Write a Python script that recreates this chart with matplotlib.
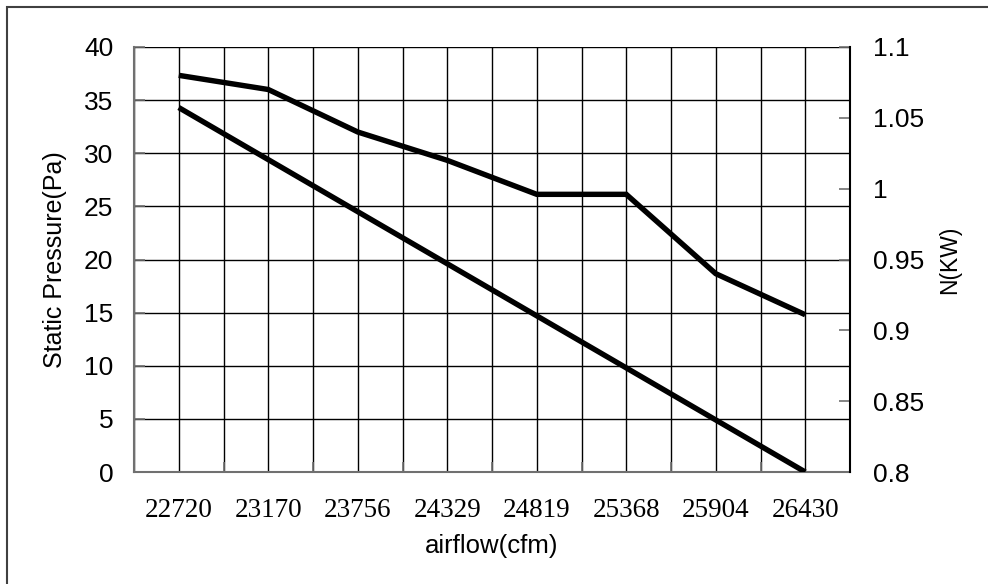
import numpy as np
import matplotlib
matplotlib.use("Agg")
import matplotlib.pyplot as plt
from matplotlib.patches import Rectangle

# Data
airflow = ["22720", "23170", "23756", "24329", "24819", "25368", "25904", "26430"]
static_pressure = [34.3, 29.4, 24.5, 19.6, 14.7, 9.8, 4.9, 0.0]          # Pa, left axis
power_kw = [1.08, 1.07, 1.04, 1.02, 0.996, 0.996, 0.94, 0.911]             # KW, right axis

SANS = "Liberation Sans"
SERIF = "Liberation Serif"

fig = plt.figure(figsize=(9.88, 5.84), dpi=100)
fig.patch.set_facecolor("white")

# Outer frame (only top/left edges fall inside the canvas)
fig.add_artist(Rectangle((7 / 988, -0.05), 1.2, 1 - 7 / 584 + 0.05,
                         transform=fig.transFigure, fill=False,
                         edgecolor="#404040", linewidth=1.5))

ax = fig.add_axes([134 / 988, 1 - 472 / 584, (850 - 134) / 988, (472 - 47) / 584])
ax2 = ax.twinx()

x = np.arange(len(airflow)) + 0.5

ax.plot(x, static_pressure, color="black", linewidth=3.9, solid_capstyle="butt",
        solid_joinstyle="miter", zorder=5)
ax2.plot(x, power_kw, color="black", linewidth=3.9, solid_capstyle="butt",
         solid_joinstyle="miter", zorder=5)

ax.set_xlim(0, len(airflow))
ax.set_ylim(0, 40)
ax2.set_ylim(0.8, 1.1)

ax.set_yticks(np.arange(0, 41, 5))
ax2.set_yticks(np.arange(0.8, 1.1001, 0.05))
ax2.set_yticklabels(["0.8", "0.85", "0.9", "0.95", "1", "1.05", "1.1"])

# Category boundaries as major ticks, labels centred in each cell
ax.set_xticks(np.arange(0, len(airflow) + 1))
ax.set_xticklabels([])
ax.set_xticks(x, minor=True)
ax.set_xticklabels(airflow, minor=True, family=SERIF, fontsize=19.5)

ax.grid(True, which="both", axis="x", color="black", linewidth=1.0)
ax.grid(True, which="major", axis="y", color="black", linewidth=1.0)
ax.set_axisbelow(True)

for a in (ax, ax2):
    for s in a.spines.values():
        s.set_visible(False)
ax.spines["left"].set_visible(True)
ax.spines["bottom"].set_visible(True)
ax.spines["left"].set_color("#707070")
ax.spines["bottom"].set_color("#707070")
ax.spines["left"].set_linewidth(1.5)
ax.spines["bottom"].set_linewidth(1.5)
ax2.spines["right"].set_visible(True)
ax2.spines["right"].set_color("black")
ax2.spines["right"].set_linewidth(1.5)

ax.tick_params(axis="y", direction="in", length=8, width=1.2, color="#707070",
               pad=15, labelsize=19)
ax.tick_params(axis="x", which="major", direction="in", length=7, width=1.2,
               color="#707070")
ax.tick_params(axis="x", which="minor", length=0, pad=18.5)
ax2.tick_params(axis="y", direction="in", length=8, width=1.2, color="#707070",
                pad=16.5, labelsize=19)

for lab in ax.get_yticklabels() + ax2.get_yticklabels():
    lab.set_family(SANS)

ax.set_ylabel("Static Pressure(Pa)", family=SANS, fontsize=18)
ax.yaxis.set_label_coords(-0.094, 0.5)
ax.set_xlabel("airflow(cfm)", family=SANS, fontsize=18.5)
ax.xaxis.set_label_coords(0.5, -0.146)
ax2.set_ylabel("N(KW)", family=SANS, fontsize=16.5, rotation=90)
ax2.yaxis.set_label_coords(1.123, 0.5)

fig.savefig("out.png", dpi=100, facecolor="white")
